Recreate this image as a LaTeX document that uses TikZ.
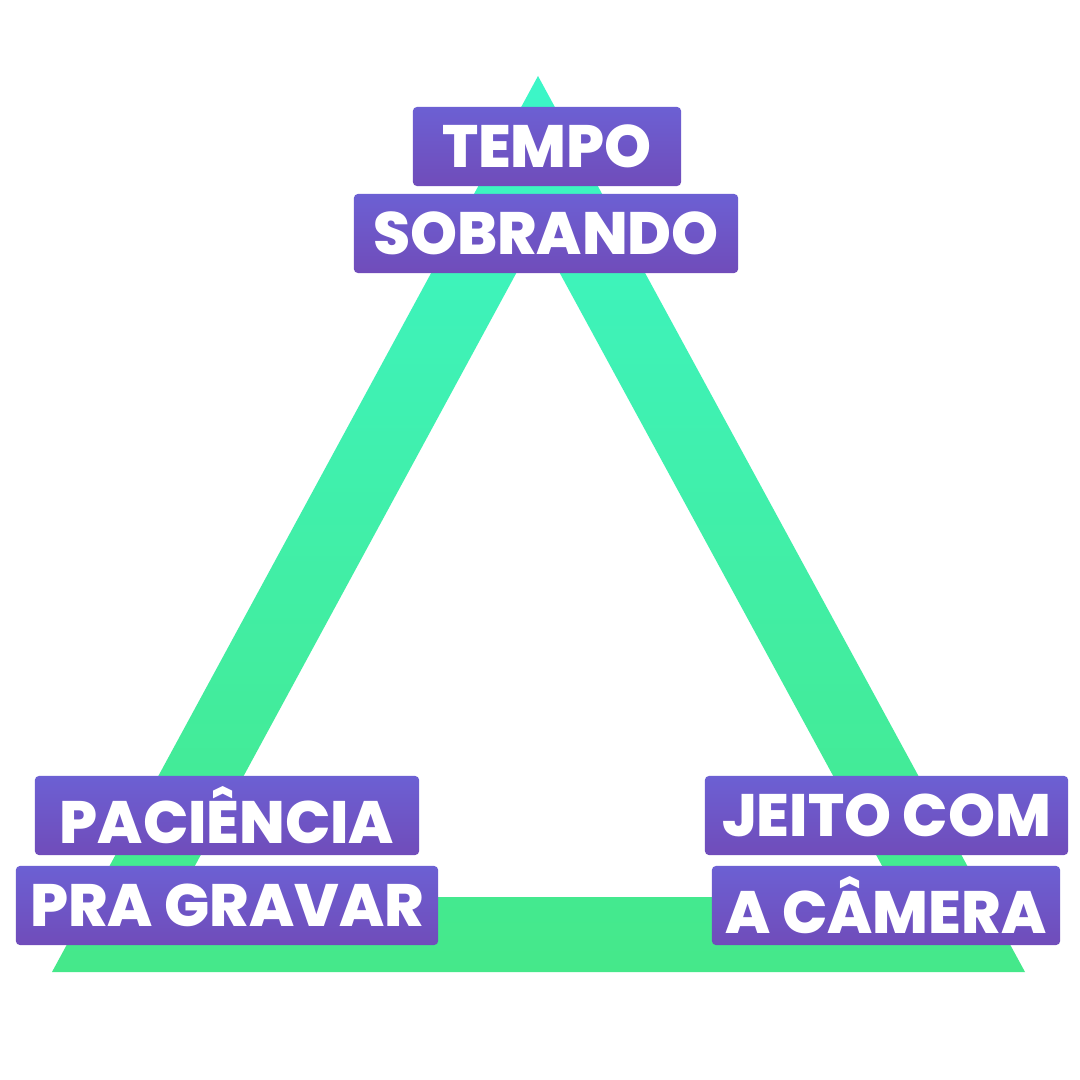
\documentclass[tikz,border=0pt]{standalone}
\usepackage{fontspec}
\setmainfont{Poppins}[BoldFont={Poppins ExtraBold}]
\usetikzlibrary{positioning}
\definecolor{tritop}{HTML}{3CF6C8}
\definecolor{tribot}{HTML}{45E88A}
\definecolor{boxtop}{HTML}{6C60D3}
\definecolor{boxmid}{HTML}{886BEC}
\definecolor{boxbot}{HTML}{704CBA}
\tikzset{
    lbl/.style={rounded corners=0.4mm, top color=boxtop, middle color=boxmid,
        bottom color=boxbot, text=white, inner sep=0pt, minimum height=0.79cm,
        font=\fontsize{17}{20}\selectfont\bfseries}
}

\begin{document}
\begin{tikzpicture}[x=0.01cm, y=-0.01cm]
                        \useasboundingbox (0, 0) rectangle (1080, 1080);
                        \fill[white] (0, 0) rectangle (1080, 1080);
                        \shade[even odd rule, top color=tritop, bottom color=tribot]
                        (538, 76) -- (1025, 972) -- (52, 972) -- cycle
                        (538, 233) -- (899, 897) -- (178, 897) -- cycle;
                        \node[lbl, minimum width=2.68cm] (t1) at (547, 146.5) {TEMPO};
                        \node[lbl, minimum width=3.84cm] (t2) at (546, 233.5) {SOBRANDO};
                        \node[lbl, minimum width=3.84cm] (l1) at (227, 815.5) {PACIÊNCIA};
                        \node[lbl, minimum width=4.22cm] (l2) at (227, 905.5) {PRA GRAVAR};
                        \node[lbl, minimum width=3.63cm] (r1) at (886.5, 815.5) {JEITO COM};
                        \node[lbl, minimum width=3.48cm] (r2) at (886, 905.5) {A CÂMERA};
                    \end{tikzpicture}
\end{document}
